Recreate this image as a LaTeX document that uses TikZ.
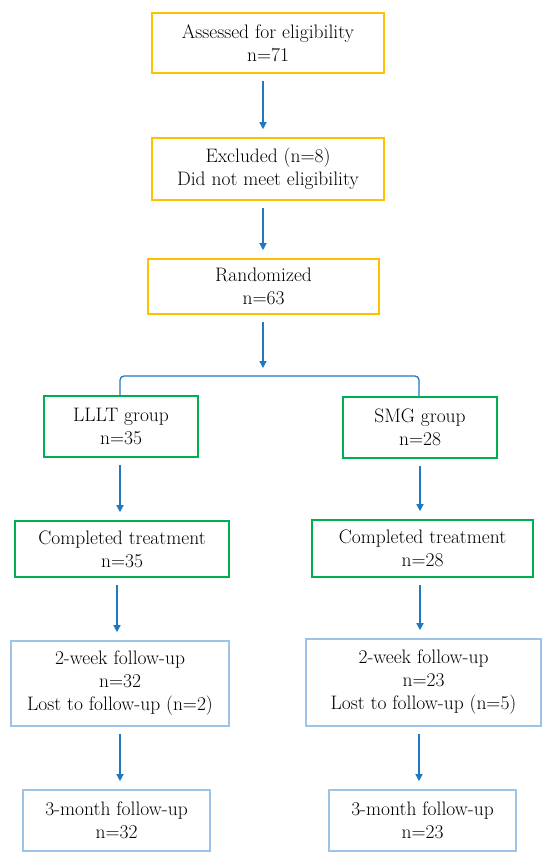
\documentclass[tikz,border=0pt]{standalone}
\usetikzlibrary{arrows.meta}

\definecolor{boxgold}{HTML}{FFC000}
\definecolor{boxgreen}{HTML}{00B050}
\definecolor{boxsky}{HTML}{9DC3E6}
\definecolor{flowblue}{HTML}{1F78C4}

\tikzset{
	box/.style={draw, rectangle, line width=1.6pt, align=center, inner sep=0pt, font=\fontsize{19.5}{23}\selectfont},
	goldbox/.style={box, draw=boxgold},
	greenbox/.style={box, draw=boxgreen},
	skybox/.style={box, draw=boxsky},
	flow/.style={draw=flowblue, line width=1.3pt, -{Triangle[width=7pt,length=7pt]}, shorten <=7pt, shorten >=8pt},
	link/.style={draw=flowblue, line width=1.3pt, rounded corners=4pt}
}

\begin{document}
\begin{tikzpicture}[x=1pt, y=-1pt]
			\useasboundingbox (0,0) rectangle (550,853);

			% screening
			\node[goldbox, minimum width=232pt, minimum height=60pt] (assess) at ( 268, 43 ) { Assessed for eligibility\\ n=71 };
			\node[goldbox, minimum width=232pt, minimum height=62pt] (excl) at ( 268, 169 ) { Excluded (n=8)\\ Did not meet eligibility };
			\node[goldbox, minimum width=231pt, minimum height=55pt] (rand) at ( 263.5, 286.5 ) { Randomized\\ n=63 };
			\coordinate (split) at ( 263, 376 );

			% groups
			\node[greenbox, minimum width=154pt, minimum height=61pt] (lllt) at ( 121, 426.5 ) { LLLT group\\ n=35 };
			\node[greenbox, minimum width=154pt, minimum height=61pt] (smg) at ( 420, 427.5 ) { SMG group\\ n=28 };
			\node[greenbox, minimum width=214pt, minimum height=56pt] (doneL) at ( 122, 549 ) { Completed treatment\\ n=35 };
			\node[greenbox, minimum width=221pt, minimum height=57pt] (doneR) at ( 422.5, 548.5 ) { Completed treatment\\ n=28 };

			% follow-up
			\node[skybox, minimum width=218pt, minimum height=85pt] (weekL) at ( 120, 683.5 ) { 2-week follow-up\\ n=32\\ Lost to follow-up (n=2) };
			\node[skybox, minimum width=235pt, minimum height=87pt] (weekR) at ( 423.5, 682.5 ) { 2-week follow-up\\ n=23\\ Lost to follow-up (n=5) };
			\node[skybox, minimum width=187pt, minimum height=61pt] (monthL) at ( 116.5, 820.5 ) { 3-month follow-up\\ n=32 };
			\node[skybox, minimum width=187pt, minimum height=61pt] (monthR) at ( 422.5, 820.5 ) { 3-month follow-up\\ n=23 };

			\draw[flow] ([xshift=-5pt]assess.south) -- ([xshift=-5pt]excl.north);
			\draw[flow] ([xshift=-5pt]excl.south) -- ([xshift=-0.5pt]rand.north);
			\draw[flow] ([xshift=-0.5pt]rand.south) -- (split);
			\draw[link] ([xshift=-1pt]lllt.north) |- (split) -| ([xshift=-1pt]smg.north);

			\draw[flow] ([xshift=-1pt]lllt.south) -- ([xshift=-1pt]lllt.south |- doneL.north);
			\draw[flow] ([xshift=0pt]smg.south) -- (smg.south |- doneR.north);
			\draw[flow] ([xshift=-5pt]doneL.south) -- ([xshift=-5pt]doneL.south |- weekL.north);
			\draw[flow] ([xshift=-2.5pt]doneR.south) -- ([xshift=-2.5pt]doneR.south |- weekR.north);
			\draw[flow] (weekL.south) -- (weekL.south |- monthL.north);
			\draw[flow] ([xshift=-4.5pt]weekR.south) -- ([xshift=-4.5pt]weekR.south |- monthR.north);
		\end{tikzpicture}
\end{document}
